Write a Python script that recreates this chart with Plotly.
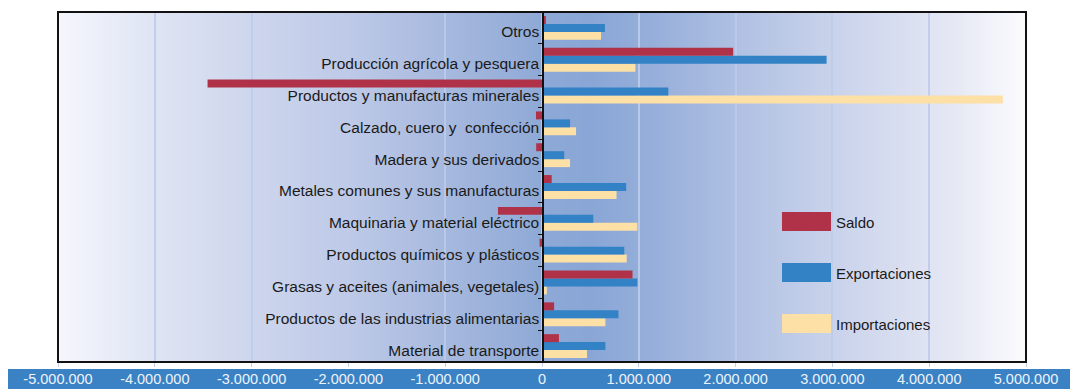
import plotly.graph_objects as go

# Categories listed from top to bottom as they appear on the chart
categories = [
    "Otros",
    "Producción agrícola y pesquera",
    "Productos y manufacturas minerales",
    "Calzado, cuero y  confección",
    "Madera y sus derivados",
    "Metales comunes y sus manufacturas",
    "Maquinaria y material eléctrico",
    "Productos químicos y plásticos",
    "Grasas y aceites (animales, vegetales)",
    "Productos de las industrias alimentarias",
    "Material de transporte",
]
saldo = [40000, 1975000, -3455000, -62000, -60000, 100000, -455000, -25000, 935000, 125000, 175000]
exportaciones = [650000, 2940000, 1305000, 290000, 230000, 870000, 530000, 850000, 985000, 790000, 655000]
importaciones = [610000, 965000, 4760000, 352000, 290000, 770000, 985000, 875000, 50000, 655000, 465000]

x_tick_values = [-5000000, -4000000, -3000000, -2000000, -1000000, 0,
                 1000000, 2000000, 3000000, 4000000, 5000000]
x_tick_labels = ["-5.000.000", "-4.000.000", "-3.000.000", "-2.000.000", "-1.000.000", "0",
                 "1.000.000", "2.000.000", "3.000.000", "4.000.000", "5.000.000"]

series_names = ["Saldo", "Exportaciones", "Importaciones"]
series_colors = ["#b03248", "#3382c5", "#fde0a5"]

W, H = 1070, 389
ML, MR, MT, MB = 58, 44, 12, 27
PW, PH = W - ML - MR, H - MT - MB
FONT = "Liberation Sans, Arial, sans-serif"


def px_x(p):
    return (p - ML) / PW


def px_y(p):
    return (H - MB - p) / PH


# plotly stacks grouped horizontal bars bottom-up, so the bottom category / last series goes first
cats_bottom_up = categories[::-1]
fig = go.Figure()
for name, vals, col in reversed(list(zip(series_names, [saldo, exportaciones, importaciones], series_colors))):
    fig.add_trace(go.Bar(
        y=cats_bottom_up, x=vals[::-1], orientation="h", name=name,
        marker=dict(color=col, line=dict(width=0)), showlegend=False,
    ))

shapes = []

# horizontal background gradient: pale at both edges, deepest blue just right of zero
stops = [
    (58, (246, 247, 252)), (150, (224, 229, 244)), (250, (206, 214, 237)),
    (350, (189, 201, 231)), (450, (166, 184, 222)), (543, (142, 169, 214)),
    (590, (137, 166, 214)), (660, (152, 176, 219)), (760, (182, 197, 229)),
    (860, (207, 215, 237)), (950, (228, 231, 244)), (1026, (252, 252, 254)),
]


def grad_color(p):
    for (p0, c0), (p1, c1) in zip(stops[:-1], stops[1:]):
        if p0 <= p <= p1:
            t = (p - p0) / (p1 - p0)
            return "rgb(%d,%d,%d)" % tuple(round(a + (b - a) * t) for a, b in zip(c0, c1))
    return "rgb(%d,%d,%d)" % stops[-1][1]


step = 4
p = ML
while p < ML + PW:
    p_end = min(p + step, ML + PW)
    shapes.append(dict(type="rect", xref="paper", yref="paper", layer="below",
                       x0=px_x(p), x1=px_x(p_end) + 0.0005, y0=0, y1=1,
                       fillcolor=grad_color(p + step / 2), line=dict(width=0)))
    p = p_end

# blue band behind the value axis labels
shapes.append(dict(type="rect", xref="paper", yref="paper", layer="below",
                   x0=px_x(8), x1=px_x(1071), y0=px_y(369), y1=px_y(390),
                   fillcolor="#3a82c4", line=dict(width=0)))

# plot frame
shapes.append(dict(type="rect", xref="paper", yref="paper", layer="above",
                   x0=0, x1=1, y0=0, y1=1, line=dict(color="#111111", width=2)))

# legend swatches and labels
annotations = []
legend_rows = [221, 272, 323]
for name, col, yc in zip(series_names, series_colors, legend_rows):
    shapes.append(dict(type="rect", xref="paper", yref="paper", layer="above",
                       x0=px_x(782), x1=px_x(831), y0=px_y(yc + 10), y1=px_y(yc - 9),
                       fillcolor=col, line=dict(width=0)))
    annotations.append(dict(xref="paper", yref="paper", x=px_x(834), y=px_y(yc + 1),
                            xanchor="left", yanchor="middle", showarrow=False,
                            text=name, font=dict(family=FONT, size=15, color="#1a1a1a")))

fig.update_layout(
    width=W, height=H,
    margin=dict(l=ML, r=MR, t=MT, b=MB, pad=0, autoexpand=False),
    paper_bgcolor="white", plot_bgcolor="rgba(0,0,0,0)",
    barmode="group", bargap=0.25, bargroupgap=0,
    showlegend=False,
    shapes=shapes, annotations=annotations,
    font=dict(family=FONT, size=15, color="#1a1a1a"),
    xaxis=dict(
        range=[-5000000, 5000000], tickvals=x_tick_values, ticktext=x_tick_labels,
        showgrid=True, gridcolor="rgba(190,203,234,0.9)", gridwidth=2,
        zeroline=False, showline=False, automargin=False,
        ticks="outside", ticklen=4, tickcolor="#c4cfe8", tickwidth=1,
        tickfont=dict(family=FONT, size=14.5, color="#eef3fa"),
        fixedrange=True,
    ),
    yaxis=dict(
        type="category", categoryorder="array", categoryarray=cats_bottom_up,
        anchor="free", position=px_x(543), side="left", automargin=False,
        showline=True, linecolor="#111111", linewidth=1.5,
        ticks="outside", tickson="boundaries", ticklen=4, tickcolor="#111111",
        showgrid=False, zeroline=False,
        tickfont=dict(family=FONT, size=15.5, color="#1a1a1a"),
        ticklabelshift=4,
        range=[-0.5, len(categories) - 0.5],
        fixedrange=True,
    ),
)

fig.write_html("out.html")
